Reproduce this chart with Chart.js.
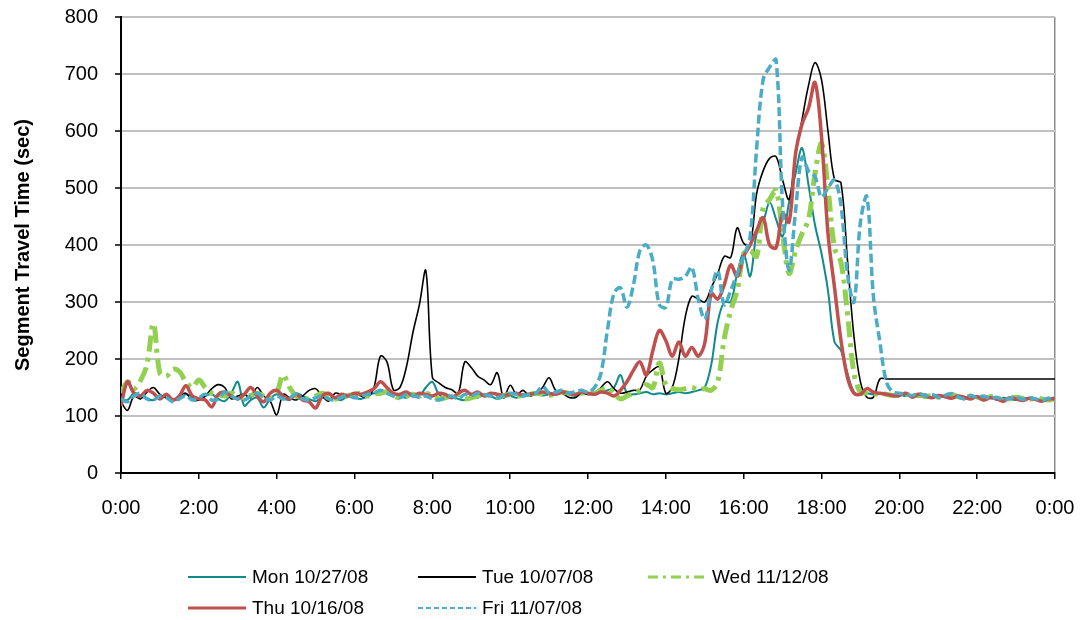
<!DOCTYPE html>
<html>
<head>
<meta charset="utf-8">
<title>Segment Travel Time</title>
<script src="https://cdn.jsdelivr.net/npm/chart.js@4/dist/chart.umd.min.js"></script>
<style>
  html, body { margin: 0; padding: 0; background: #fff; }
  #wrap { position: relative; width: 1085px; height: 620px; }
  #legend { position: absolute; left: 0; top: 0; width: 1085px; height: 620px; pointer-events: none;
            font-family: "Liberation Sans", Arial, sans-serif; font-size: 19px; color: #000; }
  .item { position: absolute; display: flex; align-items: center; height: 24px; white-space: nowrap; }
  .item svg { margin-right: 6px; }
</style>
</head>
<body>
<div id="wrap">
  <canvas id="c" width="1085" height="620"></canvas>
  <div id="legend"></div>
</div>
<script>
// Travel time samples every 10 minutes, 0:00 through 24:00 (145 readings per day).
const SAMPLE_MINUTES = 10;
const tickLabels = ['0:00','2:00','4:00','6:00','8:00','10:00','12:00','14:00','16:00','18:00','20:00','22:00','0:00'];
const seriesNames = ['Mon 10/27/08', 'Tue 10/07/08', 'Wed 11/12/08', 'Thu 10/16/08', 'Fri 11/07/08'];

// one row = two hours of readings
const mon = [
  130,128,140,136,130,128,135,132,128,130,138,132,
  128,135,138,130,126,140,160,118,128,132,115,130,
  138,132,128,140,135,130,126,132,138,130,128,135,
  132,130,135,140,138,145,140,135,132,138,135,150,
  160,138,132,135,130,128,135,132,138,135,130,133,
  135,132,138,135,140,136,138,140,142,138,135,140,
  138,140,142,145,150,172,140,138,140,142,138,140,
  138,140,142,140,142,145,150,190,265,300,300,350,
  385,345,420,440,475,445,415,475,525,570,505,435,
  385,320,230,215,175,142,138,140,138,140,136,138,
  138,135,136,134,138,132,135,133,136,132,130,134,
  132,130,134,128,132,130,128,132,130,128,130,132,
  130
];
const tue = [
  125,110,135,130,142,150,138,132,128,135,140,128,
  128,135,148,155,150,130,135,138,132,150,135,126,
  102,138,132,128,135,145,148,135,126,140,138,136,
  140,135,133,150,205,195,146,150,186,246,295,355,
  168,158,150,146,140,195,185,170,163,155,176,132,
  154,138,145,135,140,150,167,145,140,133,132,140,
  138,140,150,160,148,140,142,145,146,170,181,186,
  140,150,200,274,310,305,300,325,350,380,378,430,
  403,400,490,530,552,555,514,480,560,620,680,720,
  690,600,515,509,374,240,160,133,133,165,165,165,
  165,165,165,165,165,165,165,165,165,165,165,165,
  165,165,165,165,165,165,165,165,165,165,165,165,
  165
];
const wed = [
  140,160,148,162,190,262,175,170,182,178,160,150,
  163,150,140,138,135,140,135,132,136,140,135,130,
  140,172,150,135,132,130,135,140,135,130,132,136,
  138,140,135,138,140,142,135,132,136,138,135,140,
  135,130,132,136,138,130,132,135,138,135,133,136,
  138,135,136,138,140,138,136,140,142,140,138,140,
  142,140,145,150,140,130,135,140,145,155,150,193,
  155,148,146,148,150,146,148,145,160,235,285,320,
  385,390,380,465,480,495,420,350,390,420,445,525,
  578,500,395,370,280,175,142,140,138,140,138,136,
  136,138,135,137,134,136,133,135,138,134,132,135,
  133,130,134,132,128,130,133,131,129,132,130,128,
  131
];
const thu = [
  118,160,140,135,145,140,130,138,128,135,153,135,
  130,128,116,138,142,135,130,138,150,135,125,140,
  145,135,130,138,128,125,114,135,140,132,138,135,
  140,138,142,148,160,150,140,138,142,135,140,138,
  135,140,138,132,140,145,138,142,135,140,138,136,
  138,140,136,138,140,142,140,138,142,140,138,142,
  140,138,142,140,135,145,160,180,195,172,215,250,
  232,205,230,205,220,205,228,315,305,330,365,345,
  380,400,425,448,400,395,455,440,560,612,640,685,
  590,420,326,233,168,140,138,148,142,140,138,136,
  136,140,133,138,135,132,136,134,131,135,133,130,
  134,128,132,130,126,132,130,127,131,129,126,130,
  130
];
const fri = [
  130,125,135,140,130,128,135,132,125,130,136,128,
  132,138,128,130,142,135,130,128,135,140,132,128,
  135,130,132,138,130,128,132,135,130,128,133,136,
  132,135,138,140,145,140,135,132,138,136,133,135,
  130,128,132,135,130,138,135,140,138,135,132,136,
  140,138,135,138,140,152,140,142,145,140,143,145,
  142,150,175,251,315,325,291,330,390,400,372,295,
  291,340,340,345,361,305,270,320,355,295,320,350,
  380,415,570,690,712,725,470,356,460,554,530,520,
  484,500,514,470,350,300,440,485,310,230,160,142,
  140,138,136,140,135,138,133,136,139,134,130,136,
  132,135,130,133,128,131,134,129,132,130,127,131,
  128
];

// pair each reading with its minute-of-day
function toPoints(values) {
  return values.map((v, i) => ({ x: i * SAMPLE_MINUTES, y: v }));
}

const FONT = '"Liberation Sans", Arial, sans-serif';

const styles = [
  { color: '#0f8b8d', width: 2,   dash: [],            legendWidth: 2, legendDash: [] },
  { color: '#000000', width: 1.6, dash: [],            legendWidth: 2, legendDash: [] },
  { color: '#92d050', width: 5,   dash: [16, 6, 4, 6], legendWidth: 3, legendDash: [10, 5, 3, 5] },
  { color: '#c0504d', width: 3.5, dash: [],            legendWidth: 3, legendDash: [] },
  { color: '#4bacc6', width: 3.5, dash: [9, 4],        legendWidth: 2, legendDash: [5, 3] }
];
const seriesValues = [mon, tue, wed, thu, fri];

const datasets = seriesValues.map((vals, k) => ({
  label: seriesNames[k],
  data: toPoints(vals),
  borderColor: styles[k].color,
  borderWidth: styles[k].width,
  borderDash: styles[k].dash,
  borderCapStyle: 'butt',
  pointRadius: 0,
  fill: false,
  tension: 0.35,
  order: 5 - k          // later weekdays drawn above earlier ones
}));

const chart = new Chart(document.getElementById('c'), {
  type: 'line',
  data: { datasets },
  options: {
    responsive: false,
    animation: false,
    events: [],
    // plot rectangle: x 121..1055, y 17..473
    layout: { padding: { left: 0, right: 30, top: 17, bottom: 87 } },
    plugins: { legend: { display: false }, tooltip: { enabled: false } },
    scales: {
      x: {
        type: 'linear',
        min: 0,
        max: 24 * 60,
        afterBuildTicks: (scale) => {
          scale.ticks = tickLabels.map((_, i) => ({ value: i * 120 }));
        },
        afterFit: (scale) => {
          scale.height = 60;
          scale.paddingLeft = 0;
          scale.paddingRight = 0;
        },
        ticks: {
          autoSkip: false,
          maxRotation: 0,
          padding: 17,
          color: '#000',
          font: { family: FONT, size: 20 },
          callback: (value) => tickLabels[Math.round(value / 120)]
        },
        grid: {
          drawOnChartArea: true,
          color: (ctx) => (ctx.tick && ctx.tick.value === 24 * 60) ? '#8c8c8c' : 'rgba(0,0,0,0)',
          lineWidth: 1.5,
          tickColor: '#000',
          tickLength: 6,
          tickWidth: 1.5
        },
        border: { color: '#000', width: 2 }
      },
      y: {
        min: 0,
        max: 800,
        afterFit: (scale) => {
          scale.width = 121;
          scale.paddingTop = 0;
          scale.paddingBottom = 0;
        },
        ticks: {
          stepSize: 100,
          padding: 17,
          color: '#000',
          font: { family: FONT, size: 20 }
        },
        grid: {
          color: '#c0c0c0',
          lineWidth: 2,
          tickColor: '#000',
          tickLength: 6,
          tickWidth: 1.5
        },
        border: { color: '#000', width: 2 },
        title: {
          display: true,
          text: 'Segment Travel Time (sec)',
          color: '#000',
          font: { family: FONT, size: 20, weight: 'bold' },
          padding: { top: 11, bottom: 0 }
        }
      }
    }
  }
});

// Legend: two rows of three columns below the plot
const legendBox = document.getElementById('legend');
const colX = [188, 418, 648];
const rowY = [577, 608];
seriesNames.forEach((name, k) => {
  const st = styles[k];
  const item = document.createElement('div');
  item.className = 'item';
  item.style.left = colX[k % 3] + 'px';
  item.style.top = (rowY[Math.floor(k / 3)] - 12) + 'px';
  const svgNS = 'http://www.w3.org/2000/svg';
  const svg = document.createElementNS(svgNS, 'svg');
  svg.setAttribute('width', '58');
  svg.setAttribute('height', '10');
  const ln = document.createElementNS(svgNS, 'line');
  ln.setAttribute('x1', '0'); ln.setAttribute('y1', '5');
  ln.setAttribute('x2', '58'); ln.setAttribute('y2', '5');
  ln.setAttribute('stroke', st.color);
  ln.setAttribute('stroke-width', st.legendWidth);
  if (st.legendDash.length) ln.setAttribute('stroke-dasharray', st.legendDash.join(' '));
  svg.appendChild(ln);
  const txt = document.createElement('span');
  txt.textContent = name;
  item.appendChild(svg);
  item.appendChild(txt);
  legendBox.appendChild(item);
});
</script>
</body>
</html>
